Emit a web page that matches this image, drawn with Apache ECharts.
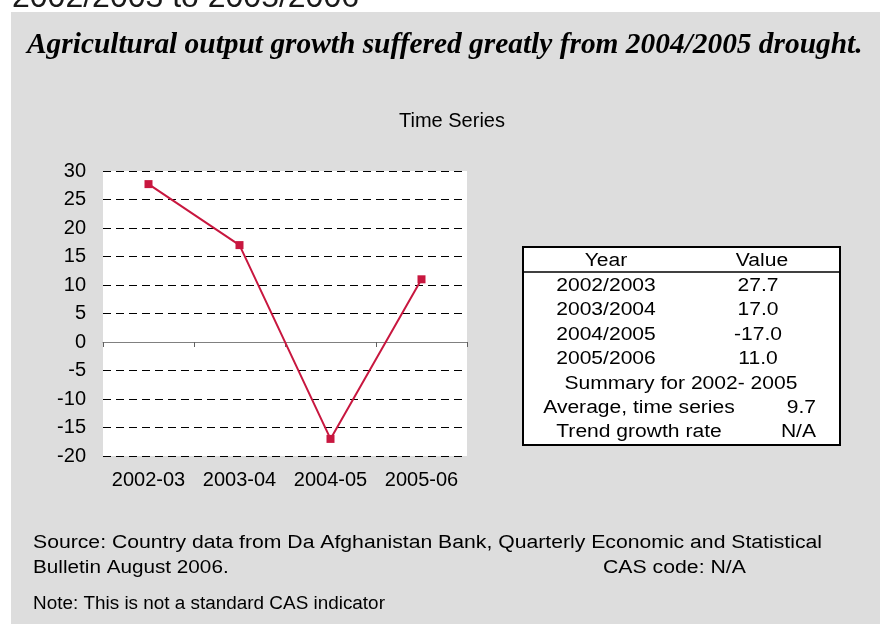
<!DOCTYPE html>
<html>
<head>
<meta charset="utf-8">
<script src="https://cdn.jsdelivr.net/npm/echarts@6/dist/echarts.min.js"></script>
<style>
  html, body { margin: 0; padding: 0; background: #ffffff; }
  #chart { width: 880px; height: 627px; }
</style>
</head>
<body>
<div id="chart"></div>
<script>
// Agricultural output growth, Afghanistan (annual %, fiscal years)
const categories = ['2002-03', '2003-04', '2004-05', '2005-06'];
const growth = [27.7, 17.0, -17.0, 11.0];
const yTicks = { min: -20, max: 30, step: 5 };

// Side table contents
const tableYears = ['2002/2003', '2003/2004', '2004/2005', '2005/2006'];
const summaryTitle = 'Summary for 2002- 2005';
const summaryRows = [['Average, time series', '9.7'], ['Trend growth rate', 'N/A']];

const SANS = 'Liberation Sans, Arial, Helvetica, sans-serif';
const SERIF = 'Liberation Serif, Times New Roman, serif';
const RED = '#c8173f';

const chart = echarts.init(document.getElementById('chart'), null, { renderer: 'canvas' });

// text helper; y is the vertical centre of the capital letters
function txt(x, y, text, opt, sx) {
  return {
    type: 'text', x: x, y: y, silent: true, scaleX: sx || 1,
    style: Object.assign({
      text: text, fill: '#000', fontFamily: SANS, fontSize: 18,
      align: 'left', verticalAlign: 'middle'
    }, opt || {})
  };
}

// Table graphic
const tbl = { left: 523, top: 247, right: 840, bottom: 445, headerLine: 272 };
const rowY0 = 286, rowStep = 24.4;
const colYear = 606, colVal = 758;
const TS = 1.17; // horizontal stretch of table text
const tableEls = [
  { type: 'rect', shape: { x: tbl.left, y: tbl.top, width: tbl.right - tbl.left, height: tbl.bottom - tbl.top },
    style: { fill: '#fff', stroke: '#000', lineWidth: 2 }, silent: true },
  { type: 'line', shape: { x1: tbl.left, y1: tbl.headerLine, x2: tbl.right, y2: tbl.headerLine },
    style: { stroke: '#000', lineWidth: 1.5 }, silent: true },
  txt(colYear, 261, 'Year', { align: 'center' }, TS),
  txt(colVal + 4, 261, 'Value', { align: 'center' }, TS)
];
tableYears.forEach(function (yr, i) {
  tableEls.push(txt(colYear, rowY0 + i * rowStep, yr, { align: 'center' }, TS));
  tableEls.push(txt(colVal, rowY0 + i * rowStep, growth[i].toFixed(1), { align: 'center' }, TS));
});
tableEls.push(txt(681, rowY0 + 4 * rowStep, summaryTitle, { align: 'center' }, TS));
summaryRows.forEach(function (r, i) {
  const y = rowY0 + (5 + i) * rowStep;
  tableEls.push(txt(639, y, r[0], { align: 'center' }, TS));
  tableEls.push(txt(816, y, r[1], { align: 'right' }, TS));
});

const option = {
  animation: false,
  backgroundColor: '#ffffff',
  graphic: [
    // panel background
    { type: 'rect', z: -10, shape: { x: 11, y: 12, width: 880, height: 612 }, style: { fill: '#dddddd' }, silent: true },
    txt(12, -2, '2002/2003 to 2005/2006', { fontSize: 32, fill: '#1a1a1a' }),
    txt(27, 45, 'Agricultural output growth suffered greatly from 2004/2005 drought.',
      { fontFamily: SERIF, fontSize: 29.4, fontWeight: 'bold', fontStyle: 'italic' }),
    txt(452, 121, 'Time Series', { fontSize: 20, align: 'center' }),
    txt(33, 543, 'Source: Country data from Da Afghanistan Bank, Quarterly Economic and Statistical',
      { fontSize: 18 }, 1.177),
    txt(33, 568, 'Bulletin August 2006.', { fontSize: 18 }, 1.15),
    txt(603, 568, 'CAS code: N/A', { fontSize: 18 }, 1.18),
    txt(33, 604, 'Note: This is not a standard CAS indicator', { fontSize: 18 }, 1.05)
  ].concat(tableEls),
  grid: {
    left: 103, top: 171, width: 364, height: 285,
    show: true, backgroundColor: '#ffffff', borderWidth: 0
  },
  xAxis: [
    {
      type: 'category', data: categories, boundaryGap: true,
      axisLine: { onZero: true, lineStyle: { color: '#808080', width: 1 } },
      axisTick: { show: true, length: 5, lineStyle: { color: '#606060' } },
      axisLabel: { show: false }, splitLine: { show: false }
    },
    {
      type: 'category', data: categories, position: 'bottom', boundaryGap: true,
      axisLine: { show: false, onZero: false }, axisTick: { show: false },
      axisLabel: { show: true, interval: 0, margin: 14, color: '#000', fontFamily: SANS, fontSize: 20 },
      splitLine: { show: false }
    }
  ],
  yAxis: {
    type: 'value', min: yTicks.min, max: yTicks.max, interval: yTicks.step,
    axisLine: { show: false }, axisTick: { show: false },
    axisLabel: { margin: 17, color: '#000', fontFamily: SANS, fontSize: 20 },
    splitLine: { show: true, lineStyle: { color: '#000', type: [8, 5], width: 1 } }
  },
  series: [{
    type: 'line', xAxisIndex: 0, data: growth,
    symbol: 'rect', symbolSize: 8,
    lineStyle: { color: RED, width: 2 },
    itemStyle: { color: RED },
    z: 5
  }]
};
chart.setOption(option);
</script>
</body>
</html>
